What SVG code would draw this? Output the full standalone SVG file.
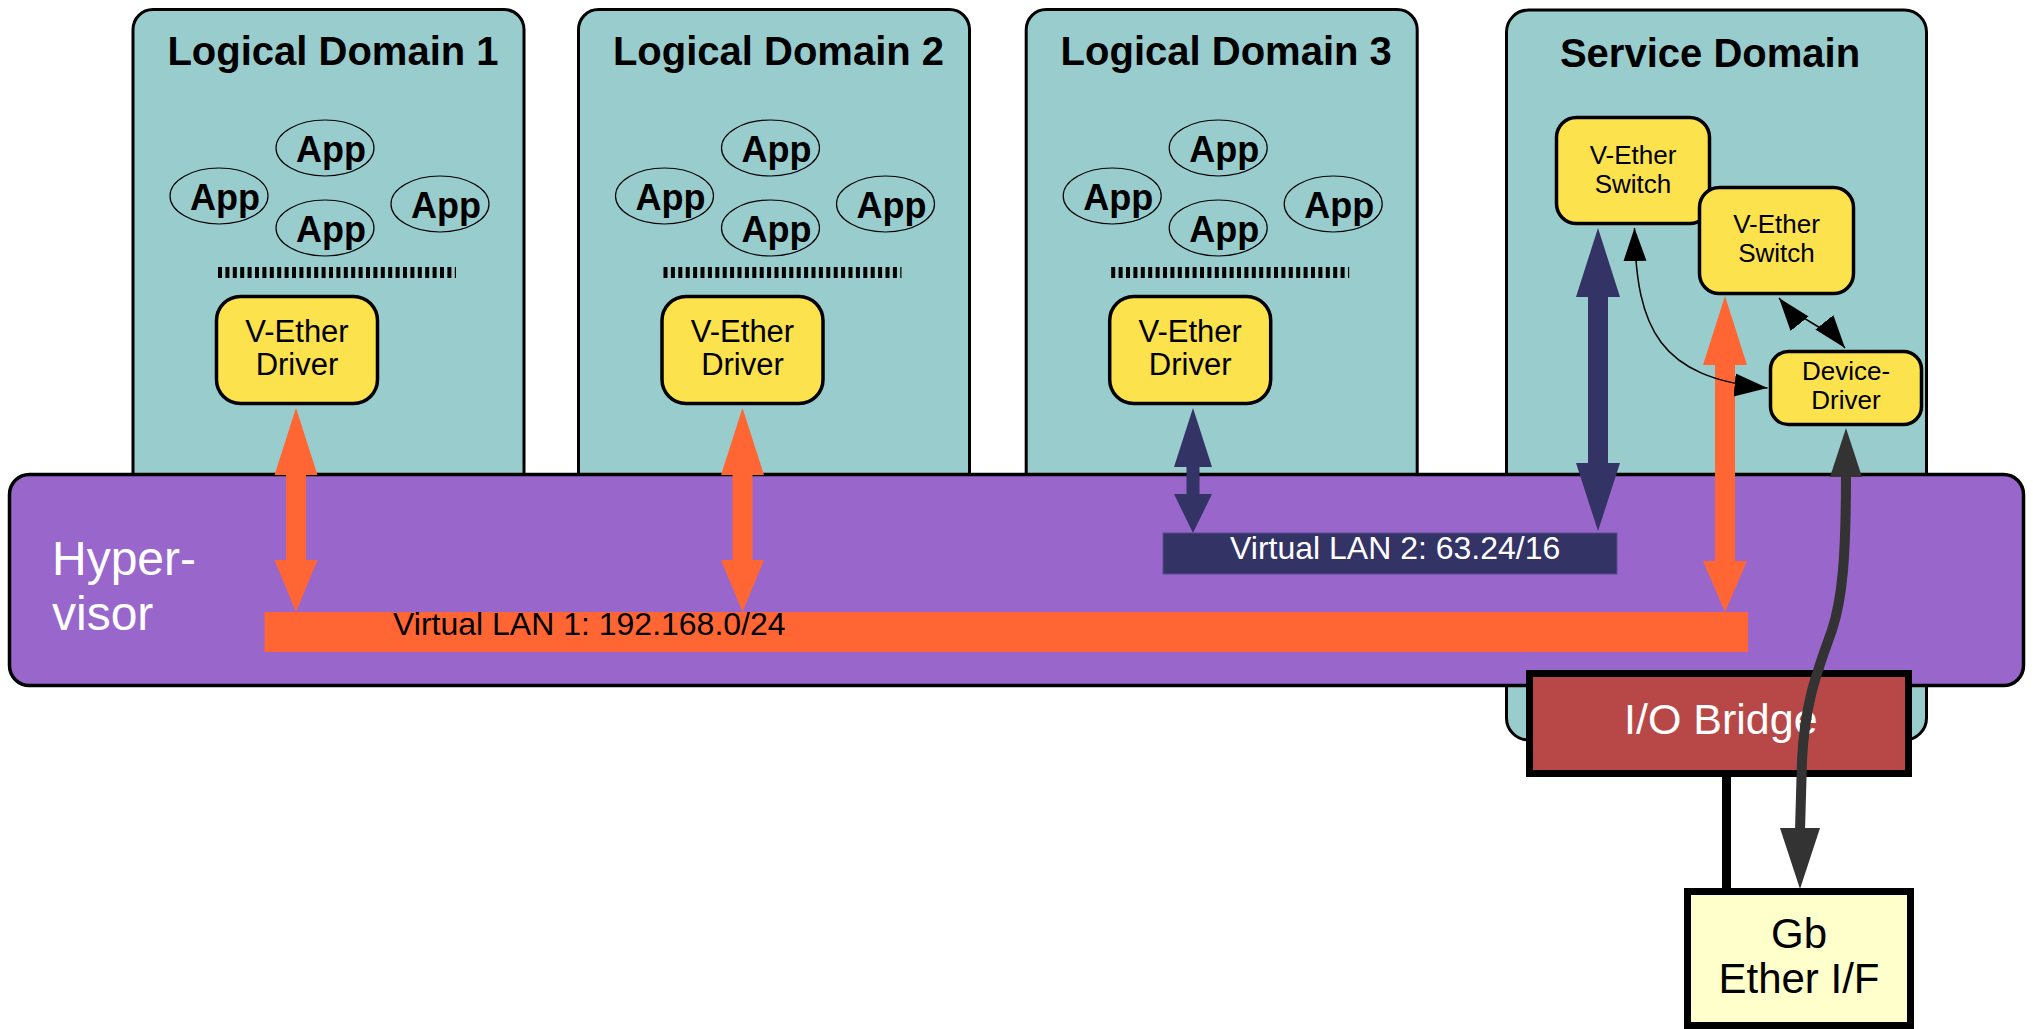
<svg xmlns="http://www.w3.org/2000/svg" width="2033" height="1029" viewBox="0 0 2033 1029">
  <style>
    .domain { fill: #99CCCC; stroke: #000; stroke-width: 3; }
    .title { font-family: "Liberation Sans", Arial, sans-serif; font-weight: bold; font-size: 40px; fill: #000; text-anchor: middle; }
    .app { fill: none; stroke: #000; stroke-width: 1.2; }
    .apptxt { font-family: "Liberation Sans", Arial, sans-serif; font-weight: bold; font-size: 36px; fill: #000; text-anchor: middle; }
    .ticks { stroke: #000; stroke-width: 11; stroke-dasharray: 4 3.4; }
    .ybox { fill: #FCE24C; stroke: #000; stroke-width: 3.5; }
    .lbl { font-family: "Liberation Sans", Arial, sans-serif; fill: #000; text-anchor: middle; }
    .wtxt { font-family: "Liberation Sans", Arial, sans-serif; fill: #fff; }
    .orange { fill: #FF6633; }
    .navy { fill: #333366; }
    .dark { fill: #333333; }
    .thin { fill: none; stroke: #000; stroke-width: 1.5; }
  </style>
  <defs>
    <marker id="tip" markerUnits="userSpaceOnUse" markerWidth="40" markerHeight="30" viewBox="0 -15 40 30" refX="33" refY="0" orient="auto-start-reverse">
      <path d="M0,-11.5 L33,0 L0,11.5 Z" fill="#000"/>
    </marker>
    <!-- one guest domain: box, four apps, driver layer and v-ether driver -->
    <g id="guest">
      <rect class="domain" x="0" y="9.5" width="391" height="600" rx="20"/>
      <ellipse class="app" cx="192" cy="148" rx="49" ry="28"/>
      <ellipse class="app" cx="86" cy="196" rx="49" ry="28"/>
      <ellipse class="app" cx="192" cy="228" rx="49" ry="28"/>
      <ellipse class="app" cx="307" cy="204" rx="49" ry="28"/>
      <text class="apptxt" x="198" y="162">App</text>
      <text class="apptxt" x="92" y="210">App</text>
      <text class="apptxt" x="198" y="242">App</text>
      <text class="apptxt" x="313" y="218">App</text>
      <line class="ticks" x1="85" y1="272.5" x2="323" y2="272.5"/>
      <rect class="ybox" x="83.5" y="296.5" width="161" height="107" rx="24"/>
      <text class="lbl" x="164" y="342" font-size="31">V-Ether</text>
      <text class="lbl" x="164" y="375" font-size="31">Driver</text>
    </g>
  </defs>

  <g id="logical-domain-1">
    <use href="#guest" x="133" y="0"/>
    <text class="title" x="333" y="65">Logical Domain 1</text>
  </g>
  <g id="logical-domain-2">
    <use href="#guest" x="578.5" y="0"/>
    <text class="title" x="778.5" y="65">Logical Domain 2</text>
  </g>
  <g id="logical-domain-3">
    <use href="#guest" x="1026.2" y="0"/>
    <text class="title" x="1226.2" y="65">Logical Domain 3</text>
  </g>

  <g id="service-domain">
    <rect class="domain" x="1506.5" y="10" width="420" height="730" rx="22"/>
    <text class="title" x="1710" y="67">Service Domain</text>
  </g>
  <g id="v-ether-switch-1">
    <rect class="ybox" x="1556.5" y="117.5" width="153" height="106" rx="20"/>
    <text class="lbl" x="1633" y="164" font-size="26">V-Ether</text>
    <text class="lbl" x="1633" y="193" font-size="26">Switch</text>
  </g>
  <g id="v-ether-switch-2">
    <rect class="ybox" x="1699.5" y="187.5" width="154" height="106" rx="20"/>
    <text class="lbl" x="1776.5" y="233" font-size="26">V-Ether</text>
    <text class="lbl" x="1776.5" y="262" font-size="26">Switch</text>
  </g>
  <g id="device-driver">
    <rect class="ybox" x="1770.5" y="351.5" width="151" height="73" rx="18"/>
    <text class="lbl" x="1846" y="380" font-size="26">Device-</text>
    <text class="lbl" x="1846" y="409" font-size="26">Driver</text>
  </g>

  <g id="hypervisor">
    <rect x="9.5" y="474.5" width="2014" height="211" rx="20" fill="#9966CC" stroke="#000" stroke-width="3.5"/>
    <text class="wtxt" x="52" y="575" font-size="48">Hyper-</text>
    <text class="wtxt" x="52" y="630" font-size="48">visor</text>
  </g>

  <g id="virtual-lan-1">
    <rect class="orange" x="264.5" y="612" width="1483.5" height="40"/>
    <text x="393" y="635" font-family="Liberation Sans, Arial, sans-serif" font-size="32" fill="#000">Virtual LAN 1: 192.168.0/24</text>
  </g>
  <g id="virtual-lan-2">
    <rect class="navy" x="1163" y="533" width="454" height="41" stroke="#5B4C8C" stroke-width="1"/>
    <text class="wtxt" x="1230" y="559" font-size="32">Virtual LAN 2: 63.24/16</text>
  </g>

  <g id="io-bridge">
    <rect x="1529.5" y="673.5" width="379" height="100" fill="#B84848" stroke="#000" stroke-width="7"/>
    <text class="wtxt" x="1624" y="734" font-size="43">I/O Bridge</text>
  </g>
  <g id="gb-ether">
    <rect x="1687.5" y="891.5" width="223" height="134" fill="#FFFFCC" stroke="#000" stroke-width="7"/>
    <text class="lbl" x="1799" y="948" font-size="42">Gb</text>
    <text class="lbl" x="1799" y="993" font-size="42">Ether I/F</text>
  </g>

  <g id="connectors">
    <!-- Virtual LAN 1 links -->
    <path class="orange" d="M296,408 L317.5,475 L306,475 L306,560 L317.5,560 L296,612 L274.5,560 L286,560 L286,475 L274.5,475 Z"/>
    <path class="orange" d="M742.5,408 L764,475 L752.5,475 L752.5,560 L764,560 L742.5,612 L721,560 L732.5,560 L732.5,475 L721,475 Z"/>
    <path class="orange" d="M1725,296 L1747,365 L1735,365 L1735,561 L1747,561 L1725,612 L1703,561 L1715,561 L1715,365 L1703,365 Z"/>
    <!-- Virtual LAN 2 links -->
    <path class="navy" d="M1193,408 L1212,467 L1199.5,467 L1199.5,494 L1212,494 L1193,533 L1174,494 L1186.5,494 L1186.5,467 L1174,467 Z"/>
    <path class="navy" d="M1598,228 L1620,297 L1608,297 L1608,463 L1620,463 L1598,531 L1576,463 L1588,463 L1588,297 L1576,297 Z"/>
    <!-- switch / device driver links -->
    <path class="thin" d="M1634.5,228 C1636,330 1660,378 1767.5,388" marker-start="url(#tip)" marker-end="url(#tip)"/>
    <path class="thin" d="M1779,298 C1795,318 1829,328 1845,348" marker-start="url(#tip)" marker-end="url(#tip)"/>
    <!-- I/O bridge to physical interface -->
    <line x1="1726.5" y1="777" x2="1726.5" y2="889" stroke="#000" stroke-width="9"/>
    <!-- device driver path to the wire -->
    <path d="M1846,474 C1846,560 1842,600 1832,630 C1818,670 1805,700 1802,760 L1800,831" fill="none" stroke="#333333" stroke-width="10"/>
    <path class="dark" d="M1846,428 L1862,477 L1830,477 Z"/>
    <path class="dark" d="M1800,889 L1820,828 L1780,828 Z"/>
  </g>
</svg>
